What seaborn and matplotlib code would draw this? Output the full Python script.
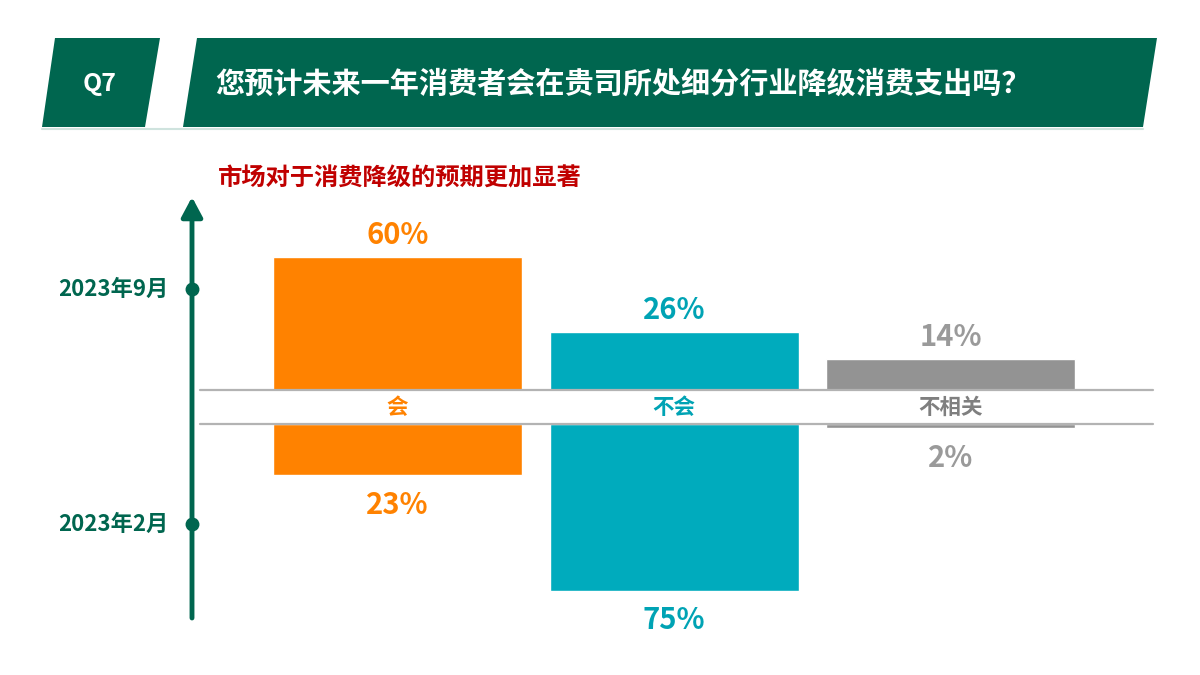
import matplotlib.pyplot as plt
import seaborn as sns
from matplotlib.lines import Line2D
from matplotlib.patches import Polygon, FancyArrowPatch

sns.set_theme(style="white")
plt.rcParams["font.family"] = ["Noto Sans CJK SC", "DejaVu Sans"]

# data
categories = ["会", "不会", "不相关"]
sep_2023 = [60, 26, 14]   # 2023年9月
feb_2023 = [23, 75, 2]    # 2023年2月
period_labels = ["2023年9月", "2023年2月"]
question_no = "Q7"
title = "您预计未来一年消费者会在贵司所处细分行业降级消费支出吗？"
subtitle = "市场对于消费降级的预期更加显著"

bar_colors = ["#FF8200", "#00ABBD", "#939393"]
label_colors = ["#FF8200", "#00A3B4", "#7F7F7F"]
pct_colors = ["#FF8200", "#00A3B4", "#9A9A9A"]
green = "#00664F"

W, H = 1200, 675
fig = plt.figure(figsize=(12, 6.75), dpi=100)
fig.patch.set_facecolor("white")


def fx(px):
    return px / W


def fy(py):
    return 1 - py / H


# header banner
fig.add_artist(Polygon([(fx(55), fy(38)), (fx(160), fy(38)), (fx(145), fy(127)), (fx(42), fy(127))],
                       closed=True, transform=fig.transFigure, facecolor=green, edgecolor="none"))
fig.add_artist(Polygon([(fx(197), fy(38)), (fx(1157), fy(38)), (fx(1143), fy(127)), (fx(183), fy(127))],
                       closed=True, transform=fig.transFigure, facecolor=green, edgecolor="none"))
fig.add_artist(Line2D([fx(42), fx(1143)], [fy(128.5), fy(128.5)], transform=fig.transFigure,
                      color="#CFE3DE", lw=1.5))
fig.text(fx(100), fy(84), question_no, color="white", fontsize=18, weight="bold",
         ha="center", va="center")
fig.text(fx(215), fy(84), title, color="white", fontsize=21, weight="bold",
         ha="left", va="center")
fig.text(fx(218), fy(178), subtitle, color="#C00000", fontsize=17.5, weight="bold",
         ha="left", va="center")

# chart axes: top half for Sep, bottom half (inverted) for Feb
px_per_pct = 2.22
x0, x1 = 200, 1153
top_base, top_end = 390, 200
bot_base, bot_end = 424, 640
xlim = (-0.713, 2.73)

ax_top = fig.add_axes([fx(x0), fy(top_base), (x1 - x0) / W, (top_base - top_end) / H])
ax_bot = fig.add_axes([fx(x0), fy(bot_end), (x1 - x0) / W, (bot_end - bot_base) / H])

sns.barplot(x=categories, y=sep_2023, hue=categories, palette=bar_colors, width=0.9,
            saturation=1, legend=False, ax=ax_top)
sns.barplot(x=categories, y=feb_2023, hue=categories, palette=bar_colors, width=0.9,
            saturation=1, legend=False, ax=ax_bot)

ax_top.set_ylim(0, (top_base - top_end) / px_per_pct)
ax_bot.set_ylim((bot_end - bot_base) / px_per_pct, 0)
for ax in (ax_top, ax_bot):
    ax.set_xlim(*xlim)
    ax.axis("off")

for i, v in enumerate(sep_2023):
    ax_top.text(i, v + 10, f"{v}%", ha="center", va="center", color=pct_colors[i],
                fontsize=21, weight="bold", clip_on=False)
for i, v in enumerate(feb_2023):
    ax_bot.text(i, v + 13.5, f"{v}%", ha="center", va="center", color=pct_colors[i],
                fontsize=21, weight="bold", clip_on=False)

# category band
band_mid = (bot_base - top_base) / 2 / px_per_pct
for i, c in enumerate(categories):
    ax_top.text(i, -band_mid, c, ha="center", va="center", color=label_colors[i],
                fontsize=15.5, weight="bold", clip_on=False)
for py in (top_base, bot_base):
    fig.add_artist(Line2D([fx(x0), fx(x1)], [fy(py), fy(py)], transform=fig.transFigure,
                          color="#B3B3B3", lw=1.6, zorder=5))

# timeline arrow
fig.add_artist(FancyArrowPatch((fx(192), fy(618)), (fx(192), fy(197)), transform=fig.transFigure,
                               arrowstyle="-|>,head_length=0.6,head_width=0.32", mutation_scale=20,
                               color=green, lw=3.5, shrinkA=0, shrinkB=0))
for py, lab in zip((289, 524), period_labels):
    fig.add_artist(Line2D([fx(192)], [fy(py)], transform=fig.transFigure, marker="o",
                          markersize=9, color=green))
    fig.text(fx(168), fy(py), lab, ha="right", va="center", color=green,
             fontsize=16, weight="bold")

fig.savefig("out.png", dpi=100)
